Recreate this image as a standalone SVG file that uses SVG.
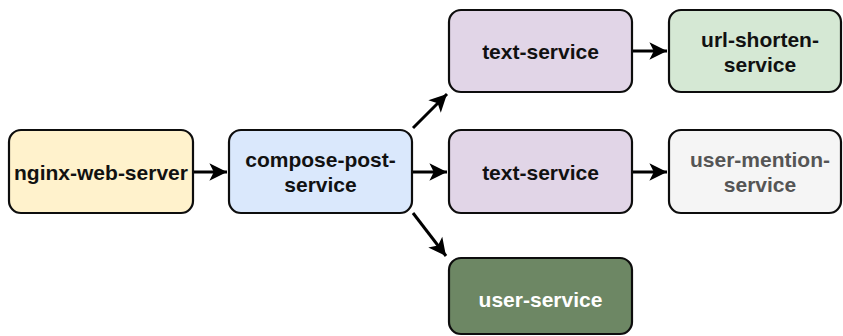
<svg xmlns="http://www.w3.org/2000/svg" width="843" height="336" viewBox="0 0 843 336">
  <style>
    .box { stroke: #0d0d0d; stroke-width: 2.2; }
    .lbl { font-family: "Liberation Sans", Arial, sans-serif; font-weight: bold; font-size: 21px; text-anchor: middle; dominant-baseline: central; fill: #111; }
    .edge { stroke: #000; stroke-width: 3; fill: none; marker-end: url(#arrow); }
  </style>
  <defs>
    <marker id="arrow" markerUnits="userSpaceOnUse" markerWidth="22" markerHeight="22" viewBox="-18 -9 20 18" refX="0" refY="0" orient="auto">
      <path d="M0,0 L-16,-8 L-12,0 L-16,8 Z" fill="#000"/>
    </marker>
  </defs>

  <rect width="843" height="336" fill="#ffffff"/>

  <g id="connectors">
    <line class="edge" x1="194" y1="172" x2="227" y2="172"/>
    <line class="edge" x1="413" y1="172" x2="447" y2="172"/>
    <line class="edge" x1="633" y1="51" x2="667" y2="51"/>
    <line class="edge" x1="633" y1="172" x2="667" y2="172"/>
    <line class="edge" x1="413" y1="128" x2="447" y2="94"/>
    <line class="edge" x1="413" y1="213" x2="446" y2="256"/>
  </g>

  <g id="nginx-web-server">
    <rect class="box" x="9" y="130" width="184" height="83" rx="12" fill="#fff2cc"/>
    <text class="lbl" x="101" y="172">nginx-web-server</text>
  </g>

  <g id="compose-post-service">
    <rect class="box" x="229" y="130" width="183" height="83" rx="12" fill="#dae8fc"/>
    <text class="lbl" x="320.5" y="159">compose-post-</text>
    <text class="lbl" x="320.5" y="184">service</text>
  </g>

  <g id="text-service-1">
    <rect class="box" x="449" y="10" width="183" height="82" rx="12" fill="#e1d5e7"/>
    <text class="lbl" x="540.5" y="51">text-service</text>
  </g>

  <g id="url-shorten-service">
    <rect class="box" x="669" y="10" width="172" height="82" rx="12" fill="#d5e8d4"/>
    <text class="lbl" x="760" y="39">url-shorten-</text>
    <text class="lbl" x="760" y="64">service</text>
  </g>

  <g id="text-service-2">
    <rect class="box" x="449" y="130" width="183" height="83" rx="12" fill="#e1d5e7"/>
    <text class="lbl" x="540.5" y="172">text-service</text>
  </g>

  <g id="user-mention-service">
    <rect class="box" x="669" y="130" width="172" height="83" rx="12" fill="#f5f5f5"/>
    <text class="lbl" x="760" y="159" style="fill:#555">user-mention-</text>
    <text class="lbl" x="760" y="184" style="fill:#555">service</text>
  </g>

  <g id="user-service">
    <rect class="box" x="449" y="258" width="183" height="76" rx="12" fill="#6d8764"/>
    <text class="lbl" x="540.5" y="299" style="fill:#ffffff">user-service</text>
  </g>
</svg>
